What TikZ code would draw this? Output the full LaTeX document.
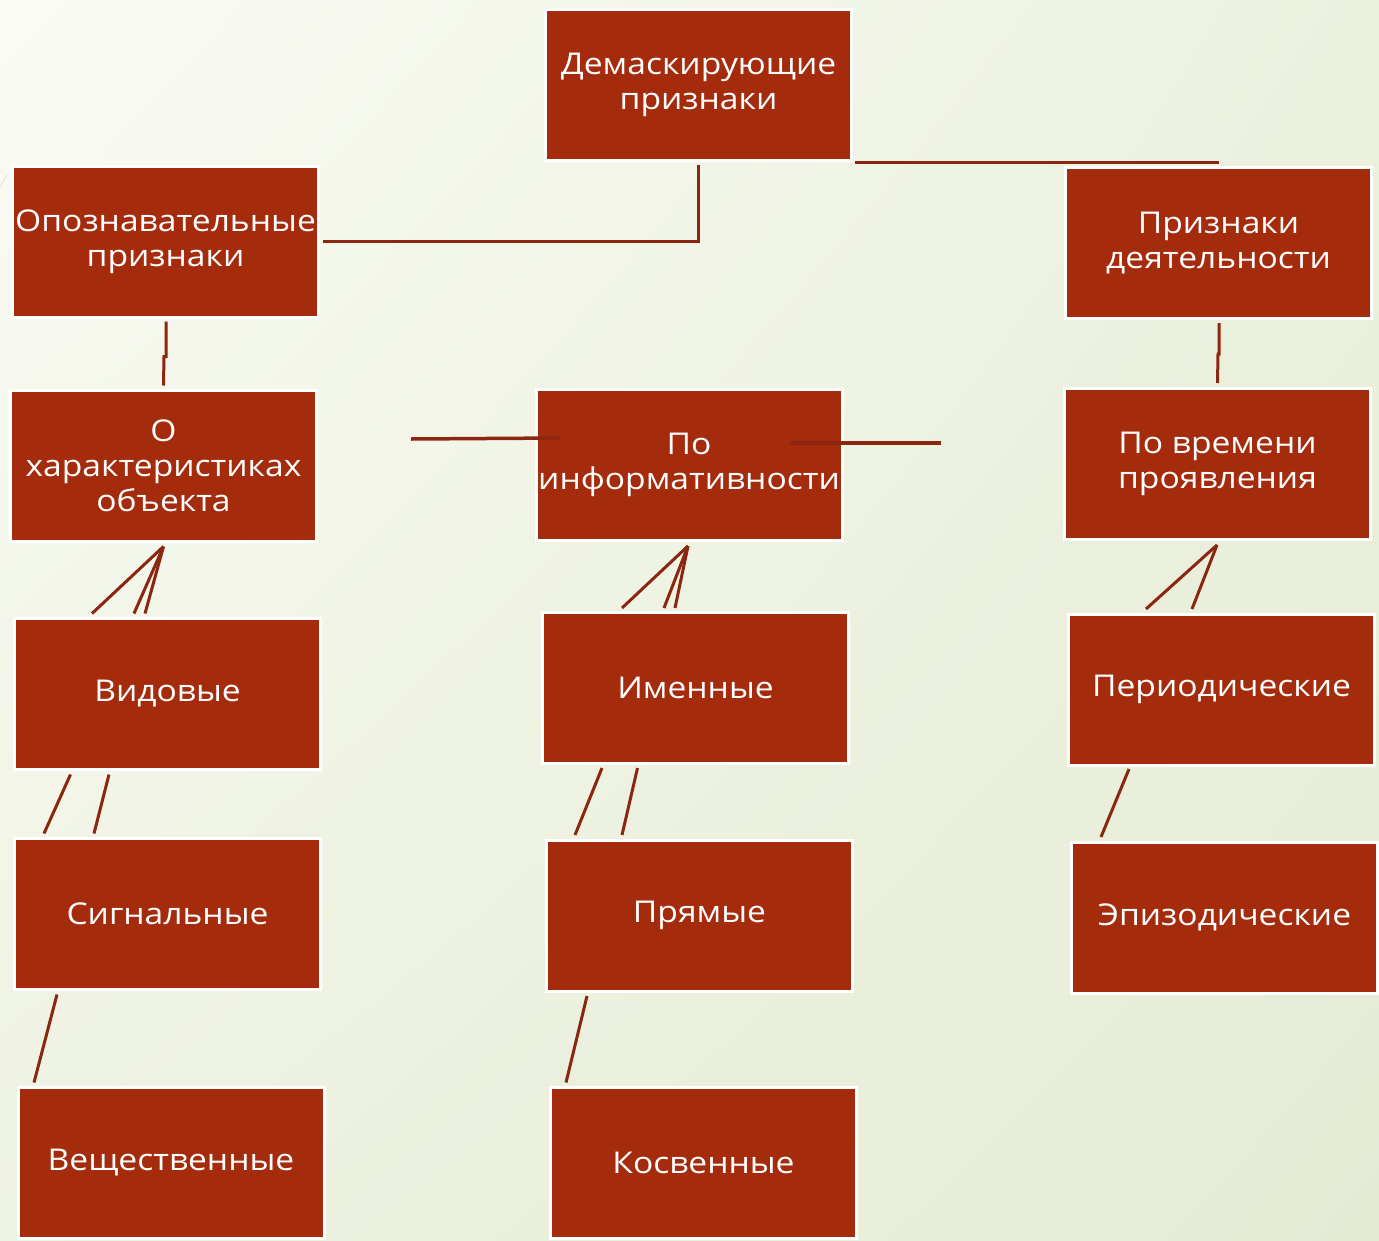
\documentclass[tikz,border=0pt]{standalone}
\usepackage{fontspec}
\setmainfont{Open Sans}[FakeStretch=1.12]
\usetikzlibrary{calc,shadings}
\definecolor{boxred}{RGB}{165,43,13}
\definecolor{linkred}{RGB}{139,38,16}
\definecolor{bgA}{RGB}{250,251,245}
\definecolor{bgB}{RGB}{236,241,222}
\definecolor{bgC}{RGB}{238,242,225}
\definecolor{bgD}{RGB}{228,235,211}
\begin{document}
\begin{tikzpicture}[x=1pt,y=-1pt,
  box/.style={draw=white,line width=3pt,fill=boxred,minimum width=306pt,
    minimum height=151pt,inner sep=0pt,text=white,align=center,
    font=\fontsize{30}{35}\selectfont},
  link/.style={draw=linkred,line width=3pt}]
% page and background
\useasboundingbox (0,0) rectangle (1379,1240);
\shade[upper left=bgA,upper right=bgB,lower left=bgC,lower right=bgD]
  (0,0) rectangle (1379,1240);
\draw[black!12,line width=0.8pt] (0,187) -- (7,175);

% boxes
\node[box] (dem)    at (698.5,85)    {Демаскирующие\\признаки};
\node[box] (opoz)   at (165.5,241.5) {Опознавательные\\признаки};
\node[box] (prizn)  at (1218.5,243)  {Признаки\\деятельности};
\node[box] (char)   at (163.5,465.5) {О\\характеристиках\\объекта};
\node[box] (info)   at (689,465)     {По\\информативности};
\node[box] (time)   at (1217.5,464)  {По времени\\проявления};
\node[box] (vid)    at (167.5,694)   {Видовые};
\node[box] (imen)   at (695.5,687.5) {Именные};
\node[box] (period) at (1221.5,689.5){Периодические};
\node[box] (sig)    at (167.5,914)   {Сигнальные};
\node[box] (pryam)  at (699.5,915.5) {Прямые};
\node[box] (epiz)   at (1224.5,917.5){Эпизодические};
\node[box] (vesch)  at (171,1163)    {Вещественные};
\node[box] (kosv)   at (703.5,1163)  {Косвенные};

% top level links
\draw[link] ($(dem.south)+(0,3)$) |- ($(opoz.east)+(3,0)$);
\coordinate (dl) at ($(dem.south east)+(2,0.5)$);
\draw[link] (dl) -- (dl -| prizn.north);
\draw[link] ($(opoz.south)+(0.5,3)$) -- ++(0,35) -- ++(-2,0) -- ($(char.north)+(0,-3)$);
\draw[link] ($(prizn.south)+(0.5,3)$) -- ++(0,31) -- ++(-1,0) -- ($(time.north)+(0,-4)$);

% stray horizontal strokes at the middle row
\coordinate (hl1) at ($(info.center)+(-278,-26)$);
\coordinate (hl2) at ($(info.center)+(-129,-27)$);
\coordinate (hr1) at ($(info.center)+(101,-22)$);
\coordinate (hr2) at ($(info.center)+(252,-22)$);
\draw[link,line width=3.5pt] (hl1) -- (hl2);
\draw[link,line width=3.5pt] (hr1) -- (hr2);

% fan links under the second row
\coordinate (ca) at ($(char.south)+(0,4)$);
\draw[link] (ca) -- ($(vid.north)+(-75.5,-3.5)$);
\draw[link] (ca) -- ($(vid.north)+(-33.5,-3.5)$);
\draw[link] (ca) -- ($(vid.north)+(-22.5,-3.5)$);
\coordinate (ia) at ($(info.south)+(-1,4)$);
\draw[link] (ia) -- ($(imen.north)+(-73.5,-2.5)$);
\draw[link] (ia) -- ($(imen.north)+(-31.5,-2.5)$);
\draw[link] (ia) -- ($(imen.north)+(-20.5,-2.5)$);
\coordinate (ta) at ($(time.south)+(-0.5,4)$);
\draw[link] (ta) -- ($(period.north)+(-75.5,-3.5)$);
\draw[link] (ta) -- ($(period.north)+(-29.5,-3.5)$);

% links between lower rows
\draw[link] ($(vid.south)+(-97,3.5)$) -- ($(sig.north)+(-123.5,-3.5)$);
\draw[link] ($(vid.south)+(-58.5,3.5)$) -- ($(sig.north)+(-73.5,-3.5)$);
\draw[link] ($(imen.south)+(-93.5,3.5)$) -- ($(pryam.north)+(-124.5,-3.5)$);
\draw[link] ($(imen.south)+(-58,3.5)$) -- ($(pryam.north)+(-77.5,-3.5)$);
\draw[link] ($(sig.south)+(-110.5,3.5)$) -- ($(vesch.north)+(-137,-3.5)$);
\draw[link] ($(pryam.south)+(-112.5,3.5)$) -- ($(kosv.north)+(-137.5,-3.5)$);
\draw[link] ($(period.south)+(-92.5,2.5)$) -- ($(epiz.north)+(-123.5,-3.5)$);
\end{tikzpicture}
\end{document}
